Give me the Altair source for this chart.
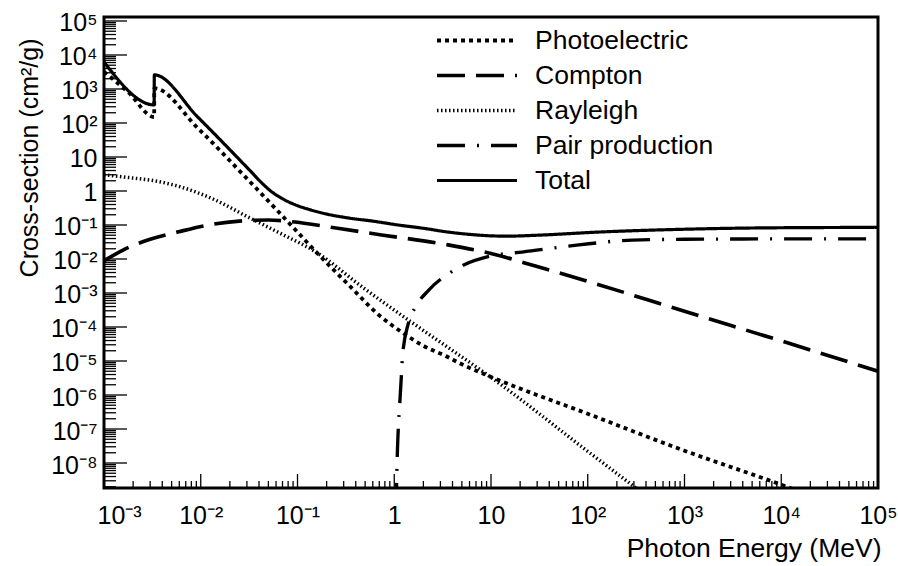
import altair as alt
import pandas as pd

# ---------------- data ----------------
series_names = ["Photoelectric", "Compton", "Rayleigh", "Pair production", "Total"]

photo_E = [1e-3, 1.8e-3, 3.3e-3, 3.31e-3, 0.0093, 0.031, 0.068, 0.1, 0.15, 0.34, 0.7, 1.2, 2, 3.4, 5, 10, 100, 1e3, 1e4, 2e4]
photo_s = [3200, 780, 150, 1050, 71, 2.1, 0.2, 0.062, 0.018, 1.7e-3, 2.2e-4, 7e-5, 2.8e-5, 1.4e-5, 8e-6, 3.4e-6, 2.8e-7, 2.3e-8, 2.3e-9, 1.1e-9]

compton_E = [1e-3, 1.8e-3, 3e-3, 5.9e-3, 0.012, 0.025, 0.05, 0.087, 0.26, 0.74, 3.6, 10, 30, 100, 1e3, 1e4, 1e5]
compton_s = [0.0089, 0.022, 0.038, 0.063, 0.1, 0.13, 0.14, 0.125, 0.08, 0.051, 0.026, 0.0145, 6e-3, 2.2e-3, 2.9e-4, 3.9e-5, 5e-6]

rayleigh_E = [1e-3, 2e-3, 3.3e-3, 6.3e-3, 0.014, 0.031, 0.068, 0.15, 0.5, 1.4, 3.6, 10, 100, 400]
rayleigh_s = [3.0, 2.4, 2.0, 1.3, 0.55, 0.17, 0.055, 0.017, 1.3e-3, 1.6e-4, 2.5e-5, 3.3e-6, 2.2e-8, 1.1e-9]

pair_E = [1.03, 1.055, 1.16, 1.19, 1.22, 1.4, 1.66, 2.26, 3.9, 11, 21, 81, 290, 1e3, 1e4, 1e5]
pair_s = [1e-11, 1.9e-9, 1.3e-6, 4.5e-6, 1.5e-5, 1.3e-4, 3.9e-4, 1.2e-3, 4.2e-3, 0.013, 0.016, 0.026, 0.036, 0.038, 0.039, 0.039]

total_E = [1e-3, 3.3e-3, 3.31e-3, 0.0093, 0.031, 0.045, 0.054, 0.068, 0.1, 0.13, 0.2, 0.34, 0.6, 1.1, 2, 3.6, 6, 10, 15, 30, 130, 1e3, 3e3, 1e4, 1e5]
total_s = [6200, 340, 2600, 150, 4.5, 1.5, 0.95, 0.62, 0.37, 0.29, 0.21, 0.16, 0.13, 0.1, 0.08, 0.062, 0.053, 0.048, 0.047, 0.05, 0.062, 0.075, 0.08, 0.083, 0.085]

x_decades = list(range(-3, 6))
y_decades = list(range(-8, 6))
minor_mult = [2, 3, 4, 5, 6, 7, 8, 9]

# ---------------- build tables ----------------
rows = []
for name, E, S in zip(series_names,
                      [photo_E, compton_E, rayleigh_E, pair_E, total_E],
                      [photo_s, compton_s, rayleigh_s, pair_s, total_s]):
    for i, (e, s) in enumerate(zip(E, S)):
        rows.append({"series": name, "E": e, "sigma": s, "i": i})
df = pd.DataFrame(rows)

X_DOM = [1e-3, 1e5]
Y_DOM = [1.84e-9, 1.31e5]
W, H = 774, 471

major_x = [10.0 ** k for k in x_decades]
minor_x = [m * 10.0 ** k for k in x_decades[:-1] for m in minor_mult]
major_y = [10.0 ** k for k in y_decades]
minor_y = [m * 10.0 ** k for k in range(-9, 6) for m in minor_mult
           if Y_DOM[0] <= m * 10.0 ** k <= Y_DOM[1]]

SUP = str.maketrans("0123456789-", "⁰¹²³⁴⁵⁶⁷⁸⁹⁻")


def lab(k):
    if k == 0:
        return "1"
    if k == 1:
        return "10"
    return "10" + str(k).translate(SUP)


def label_expr(decades):
    ex = "round(log(datum.value)/LN10)"
    out = "''"
    for k in reversed(decades):
        out = f"{ex} == {k} ? '{lab(k)}' : ({out})"
    return out


FONT = "Liberation Sans"

xscale = alt.Scale(type="log", domain=X_DOM, nice=False)
yscale = alt.Scale(type="log", domain=Y_DOM, nice=False)

xaxis = alt.Axis(values=major_x, labelExpr=label_expr(x_decades),
                 ticks=False, tickSize=0, domain=False, grid=False,
                 labelFontSize=25, labelFont=FONT, labelColor="black",
                 labelPadding=15, labelOverlap=False, labelFlush=False,
                 labelBaseline="top",
                 labelAlign={"condition": {"test": "datum.value < 0.002", "value": "left"},
                             "value": "center"},
                 labelOffset={"condition": {"test": "datum.value < 0.002", "value": -7},
                              "value": 0},
                 title="Photon Energy (MeV)", titleFont=FONT,
                 titleFontSize=26.5, titleFontWeight="normal",
                 titleColor="black", titleAlign="right",
                 titleBaseline="middle", titleX=777, titleY=60)
yaxis = alt.Axis(values=major_y, labelExpr=label_expr(y_decades),
                 ticks=False, tickSize=0, domain=False, grid=False,
                 labelFontSize=25, labelFont=FONT, labelColor="black",
                 labelPadding=7, labelOverlap=False, labelFlush=False,
                 labelBaseline="middle", labelOffset=2,
                 title="Cross-section (cm²/g)", titleFont=FONT,
                 titleFontSize=25, titleFontWeight="normal",
                 titleColor="black", titleAngle=270, titleAlign="right",
                 titleBaseline="middle", titleX=-75, titleY=21)

dashes = [[4, 4], [28, 11], [1.5, 2.5], [28, 12, 2, 12], [1, 0]]
widths = [3.8, 3.2, 2.4, 3.4, 3.0]

leg = alt.Legend(title=None, orient="none", legendX=331, legendY=6,
                 symbolType="stroke", symbolSize=6400, clipHeight=35,
                 labelFontSize=26.5, labelFont=FONT, labelOffset=16,
                 rowPadding=0, padding=0, symbolStrokeColor="black",
                 labelLimit=400, labelColor="black")

lines = alt.Chart(df).mark_line(clip=True, interpolate="monotone", color="black").encode(
    x=alt.X("E:Q", scale=xscale, axis=xaxis),
    y=alt.Y("sigma:Q", scale=yscale, axis=yaxis),
    strokeDash=alt.StrokeDash("series:N", scale=alt.Scale(domain=series_names, range=dashes), legend=leg),
    strokeWidth=alt.StrokeWidth("series:N", scale=alt.Scale(domain=series_names, range=widths), legend=leg),
    order="i:Q",
)


def xticks(vals, length):
    return alt.Chart(pd.DataFrame({"E": vals})).mark_rule(color="black", strokeWidth=1.3).encode(
        x=alt.X("E:Q", scale=xscale, axis=xaxis),
        y=alt.value(H), y2=alt.value(H - length))


def yticks(vals, length):
    return alt.Chart(pd.DataFrame({"sigma": vals})).mark_rule(color="black", strokeWidth=1.3).encode(
        y=alt.Y("sigma:Q", scale=yscale, axis=yaxis),
        x=alt.value(0), x2=alt.value(length))


chart = alt.layer(
    lines,
    xticks(major_x, 14), xticks(minor_x, 7),
    yticks(major_y, 23), yticks(minor_y, 12),
).properties(
    width=W, height=H,
    padding={"left": 104, "top": 17, "right": 20, "bottom": 78},
    autosize=alt.AutoSizeParams(type="none"),
    background="white",
).configure_view(
    stroke="black", strokeWidth=3
)

chart.save("out.html", embed_options={"renderer": "svg", "actions": False})
